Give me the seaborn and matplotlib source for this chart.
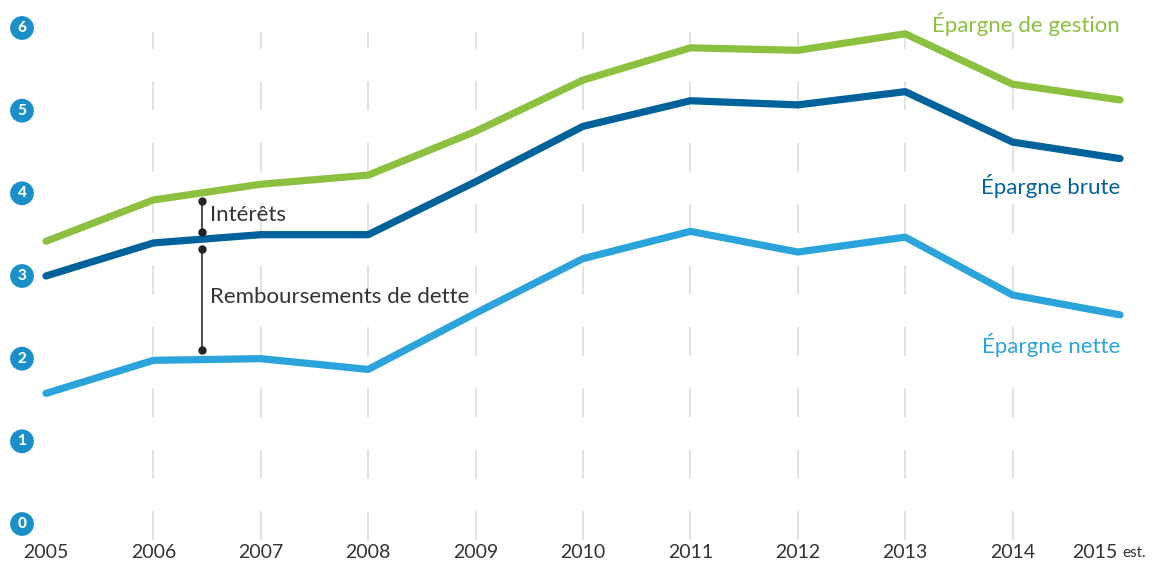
import matplotlib
matplotlib.use("Agg")
import matplotlib.pyplot as plt
import matplotlib.transforms as mtransforms
import seaborn as sns
import pandas as pd

years = [2005, 2006, 2007, 2008, 2009, 2010, 2011, 2012, 2013, 2014, 2015]
epargne_gestion = [3.42, 3.92, 4.11, 4.22, 4.75, 5.37, 5.76, 5.73, 5.93, 5.32, 5.13]
epargne_brute = [3.00, 3.40, 3.50, 3.50, 4.14, 4.81, 5.12, 5.07, 5.23, 4.62, 4.42]
epargne_nette = [1.58, 1.98, 2.00, 1.87, 2.55, 3.21, 3.54, 3.29, 3.47, 2.77, 2.53]
series_names = ["Épargne de gestion", "Épargne brute", "Épargne nette"]
y_ticks = [0, 1, 2, 3, 4, 5, 6]

# bracket annotations (x position, top, bottom, label)
annot_x = 2006.45
interets = (3.91, 3.53)
remboursements = (3.33, 2.10)

colors = {"Épargne de gestion": "#8cc13f",
          "Épargne brute": "#00629b",
          "Épargne nette": "#2ba4dc"}

df = pd.DataFrame({
    "year": years * 3,
    "value": epargne_gestion + epargne_brute + epargne_nette,
    "serie": sum([[n] * len(years) for n in series_names], []),
})

sns.set_style("white")
plt.rcParams["font.family"] = ["Lato", "DejaVu Sans"]

fig = plt.figure(figsize=(11.76, 5.65), dpi=100)
ax = fig.add_axes([46 / 1176, 41 / 565, 1074 / 1176, 496 / 565])
ax.set_xlim(2005, 2015)
ax.set_ylim(0, 6)

# dashed vertical grid
ax.vlines(years[1:-1], -0.19, 5.95, colors="#e0e0e0", linewidth=1.3,
          linestyles=(0, (16, 18)), clip_on=False, zorder=0)

sns.lineplot(data=df, x="year", y="value", hue="serie", palette=colors,
             linewidth=5.2, legend=False, ax=ax, sort=False)
for line in ax.lines:
    line.set_solid_capstyle("round")
    line.set_solid_joinstyle("round")
    line.set_clip_on(False)

# brackets
for top, bot in (interets, remboursements):
    ax.plot([annot_x, annot_x], [top, bot], color="#222222", linewidth=1.1,
            marker="o", markersize=5, zorder=5)
ax.text(annot_x + 0.08, sum(interets) / 2 + 0.02, "Intérêts", fontsize=16,
        color="#333333", va="center", ha="left")
ax.text(annot_x + 0.08, 2.75, "Remboursements de dette", fontsize=16,
        color="#333333", va="center", ha="left")

# series labels
label_y = {"Épargne de gestion": 6.05, "Épargne brute": 4.09, "Épargne nette": 2.17}
for name in series_names:
    ax.text(2015, label_y[name], name, color=colors[name], fontsize=16,
            ha="right", va="center")

# y badges
trans = mtransforms.blended_transform_factory(fig.transFigure, ax.transData)
for v in y_ticks:
    ax.text(22 / 1176, v, str(v), transform=trans, color="white", fontsize=11,
            fontweight="black", ha="center", va="center",
            bbox=dict(boxstyle="circle,pad=0.32", fc="#1a8fc9", ec="none"))

# x labels
xtrans = mtransforms.blended_transform_factory(ax.transData, fig.transFigure)
for yr in years[:-1]:
    ax.text(yr, 13 / 565, str(yr), transform=xtrans, fontsize=14,
            color="#333333", ha="center", va="center")
ax.text(years[-1] - 0.02, 13 / 565, str(years[-1]), transform=xtrans,
        fontsize=14, color="#333333", ha="right", va="center")
ax.text(years[-1] + 0.02, 12 / 565, "est.", transform=xtrans,
        fontsize=11, color="#333333", ha="left", va="center")

ax.set_xticks([])
ax.set_yticks([])
ax.set_xlabel("")
ax.set_ylabel("")
sns.despine(ax=ax, left=True, bottom=True)

fig.savefig("out.png", dpi=100)
